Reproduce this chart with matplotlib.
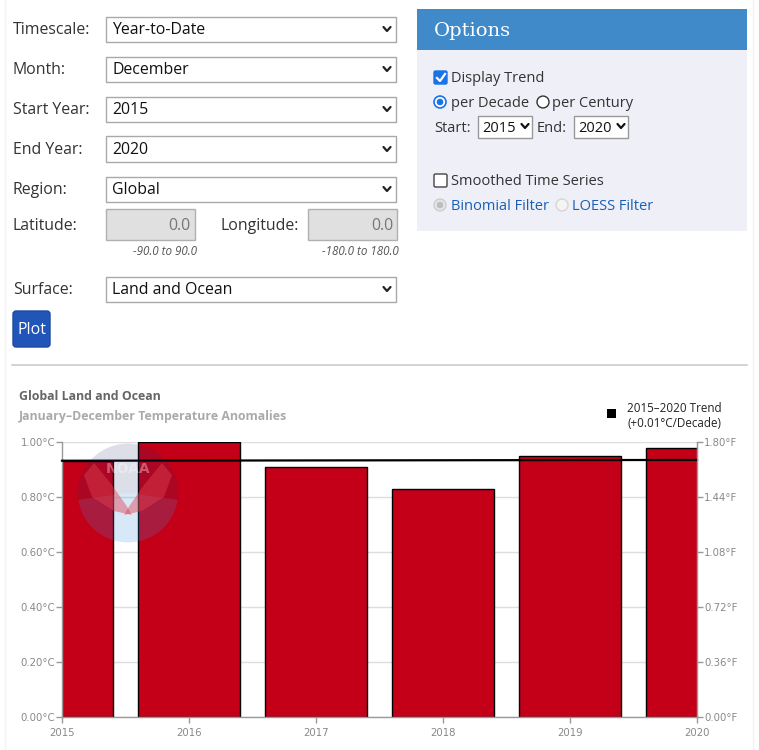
import numpy as np
import matplotlib
matplotlib.use("Agg")
import matplotlib.pyplot as plt
from matplotlib.patches import Rectangle, FancyBboxPatch, Circle, Wedge, Polygon
from matplotlib.lines import Line2D

# ---------------- data ----------------
years = [2015, 2016, 2017, 2018, 2019, 2020]
anomalies_c = [0.93, 1.00, 0.91, 0.83, 0.95, 0.98]
c_ticks = [0.0, 0.2, 0.4, 0.6, 0.8, 1.0]
f_ticks = [0.0, 0.36, 0.72, 1.08, 1.44, 1.80]
title = "Global Land and Ocean"
subtitle = "January\u2013December Temperature Anomalies"
legend_lines = ["2015\u20132020 Trend", "(+0.01\u00b0C/Decade)"]

form_labels = ["Timescale:", "Month:", "Start Year:", "End Year:", "Region:", "Surface:"]
form_values = ["Year-to-Date", "December", "2015", "2020", "Global", "Land and Ocean"]
form_rows_y = [29, 69, 109, 149, 189, 289]

W, H = 759, 750
fig = plt.figure(figsize=(W / 100, H / 100), dpi=100)
fig.patch.set_facecolor("white")

FONT = "Open Sans"
YOFF = 1.5


def fx(x):
    return x / W


def fy(y):
    return 1 - y / H


def rect(x0, y0, x1, y1, fc, ec="none", lw=1.0, z=1, **kw):
    r = Rectangle((fx(x0), fy(y1)), fx(x1) - fx(x0), fy(y0) - fy(y1),
                  transform=fig.transFigure, facecolor=fc, edgecolor=ec, lw=lw, zorder=z, **kw)
    fig.patches.append(r)
    return r


def text(x, y, s, size, color="#333333", ha="left", va="center", **kw):
    kw.setdefault("family", FONT)
    fig.text(fx(x), fy(y + YOFF), s, fontsize=size, color=color, ha=ha, va=va, **kw)


def chevron(x, y, color="#222222"):
    fig.lines.append(Line2D([fx(x - 3.5), fx(x), fx(x + 3.5)], [fy(y - 2), fy(y + 2), fy(y - 2)],
                            transform=fig.transFigure, color=color, lw=1.6, solid_capstyle="round"))


# page side borders
fig.lines.append(Line2D([fx(5), fx(5)], [0, 1], transform=fig.transFigure, color="#f3f3f3", lw=1))
fig.lines.append(Line2D([fx(753), fx(753)], [0, 1], transform=fig.transFigure, color="#f3f3f3", lw=1))

# ---------------- form ----------------
for lab, val, yc in zip(form_labels, form_values, form_rows_y):
    text(13, yc, lab, 11.4)
    rect(106, yc - 12.5, 396, yc + 12.5, "white", ec="#a9a9a9", lw=1)
    text(112, yc, val, 11.4, color="#111111")
    chevron(387, yc)

text(13, 225, "Latitude:", 11.4)
rect(106, 209, 195, 240, "#e0e0e0", ec="#b0b0b0", lw=1)
text(190, 225, "0.0", 11.4, color="#777777", ha="right")
text(220, 225, "Longitude:", 11.4)
rect(308, 209, 397, 240, "#e0e0e0", ec="#b0b0b0", lw=1)
text(393, 225, "0.0", 11.4, color="#777777", ha="right")
text(197, 250, "-90.0 to 90.0", 8.4, color="#555555", ha="right", style="italic")
text(399, 250, "-180.0 to 180.0", 8.4, color="#555555", ha="right", style="italic")

btn = FancyBboxPatch((fx(13), fy(347)), fx(50) - fx(13), fy(311) - fy(347),
                     boxstyle="round,pad=0,rounding_size=0.004", transform=fig.transFigure,
                     facecolor="#2255b8", edgecolor="#1d4aa0", lw=1)
fig.patches.append(btn)
text(31.5, 329, "Plot", 11.4, color="white", ha="center")

# separator
fig.lines.append(Line2D([fx(12), fx(747)], [fy(365), fy(365)], transform=fig.transFigure,
                        color="#cccccc", lw=1.2))

# ---------------- options panel ----------------
rect(417, 9, 747, 50, "#418ac9")
text(434, 29.5, "Options", 14, color="white", family="DejaVu Serif")
rect(417, 50, 747, 231, "#efeff7")

# checkbox checked
cb = FancyBboxPatch((fx(434), fy(84)), fx(447) - fx(434), fy(71) - fy(84),
                    boxstyle="round,pad=0,rounding_size=0.002", transform=fig.transFigure,
                    facecolor="#1a73e8", edgecolor="#1a73e8", lw=1)
fig.patches.append(cb)
fig.lines.append(Line2D([fx(437), fx(440), fx(445)], [fy(78), fy(81), fy(74)],
                        transform=fig.transFigure, color="white", lw=1.6))
text(451, 77, "Display Trend", 10.5)

# radios
fig.patches.append(Circle((fx(440), fy(102)), 6 / W, transform=fig.transFigure,
                          facecolor="white", edgecolor="#1a73e8", lw=1.2))
fig.patches.append(Circle((fx(440), fy(102)), 3.3 / W, transform=fig.transFigure,
                          facecolor="#1a73e8", edgecolor="none"))
text(451, 102, "per Decade", 10.5)
fig.patches.append(Circle((fx(543), fy(102)), 6 / W, transform=fig.transFigure,
                          facecolor="white", edgecolor="#333333", lw=1))
text(552, 102, "per Century", 10.5)

text(434, 127, "Start:", 10.5)
rect(478, 116, 532, 138, "white", ec="#999999", lw=1)
text(482, 127, "2015", 10.5, color="#111111")
chevron(525, 126, "#111111")
text(537, 127, "End:", 10.5)
rect(574, 116, 628, 138, "white", ec="#999999", lw=1)
text(578, 127, "2020", 10.5, color="#111111")
chevron(621, 126, "#111111")

cb2 = FancyBboxPatch((fx(434), fy(187)), fx(447) - fx(434), fy(174) - fy(187),
                     boxstyle="round,pad=0,rounding_size=0.002", transform=fig.transFigure,
                     facecolor="white", edgecolor="#444444", lw=1)
fig.patches.append(cb2)
text(451, 180, "Smoothed Time Series", 10.5)

fig.patches.append(Circle((fx(440), fy(205)), 6 / W, transform=fig.transFigure,
                          facecolor="#e6e6e6", edgecolor="#cccccc", lw=1))
fig.patches.append(Circle((fx(440), fy(205)), 3.3 / W, transform=fig.transFigure,
                          facecolor="#bdbdbd", edgecolor="none"))
text(451, 205, "Binomial Filter", 10.5, color="#1a5fb4")
fig.patches.append(Circle((fx(562), fy(205)), 6 / W, transform=fig.transFigure,
                          facecolor="#f4f4f4", edgecolor="#d6d6d6", lw=1))
text(572, 205, "LOESS Filter", 10.5, color="#1a5fb4")

# ---------------- chart ----------------
text(19, 395, title, 8.9, color="#666666", weight="bold")
text(19, 415, subtitle, 8.9, color="#aaaaaa", weight="bold")

rect(607, 409, 616, 418, "black")
text(627, 407, legend_lines[0], 8.4, color="#222222")
text(627, 422, legend_lines[1], 8.4, color="#222222")

ax_l, ax_r, ax_t, ax_b = 62, 697, 442, 717
ax = fig.add_axes([fx(ax_l), fy(ax_b), fx(ax_r) - fx(ax_l), fy(ax_t) - fy(ax_b)])
ax.set_xlim(2015, 2020)
ax.set_ylim(0, 1.0)
ax.set_facecolor("none")

ax.bar(years, anomalies_c, width=0.8, color="#c40018", edgecolor="black", lw=1.0, zorder=2)

# trend line (least squares fit of the series)
slope, intercept = np.polyfit(years, anomalies_c, 1)
yr = np.array([years[0], years[-1]])
ax.plot(yr, slope * yr + intercept, color="black", lw=1.6, zorder=4, clip_on=False)

ax.set_yticks(c_ticks)
ax.set_yticklabels([f"{v:.2f}\u00b0C" for v in c_ticks])
ax.set_xticks(years)
ax.set_xticklabels([str(y) for y in years])
ax.grid(axis="y", color="#dddddd", lw=1, zorder=0)
ax.set_axisbelow(True)
ax.spines["top"].set_visible(False)
for s in ["left", "bottom", "right"]:
    ax.spines[s].set_color("#999999")
    ax.spines[s].set_linewidth(1)
ax.tick_params(axis="both", colors="#999999", labelcolor="#888888", labelsize=7.3, length=4, width=1)
ax.tick_params(axis="x", pad=4)
ax.tick_params(axis="y", pad=1)

ax2 = ax.twinx()
ax2.set_ylim(0, 1.8)
ax2.set_yticks(f_ticks)
ax2.set_yticklabels([f"{v:.2f}\u00b0F" for v in f_ticks])
for s in ["top", "left", "bottom"]:
    ax2.spines[s].set_visible(False)
ax2.spines["right"].set_color("#999999")
ax2.tick_params(axis="y", colors="#999999", labelcolor="#888888", labelsize=7.3, length=4, width=1, pad=1)

# NOAA watermark logo (semi-transparent)
cx, cy, r = 128, 493, 50
fig.patches.append(Wedge((fx(cx), fy(cy)), r / W, -8, 188, transform=fig.transFigure,
                         facecolor="#1f2a6b", alpha=0.15, edgecolor="none", zorder=5))
fig.patches.append(Wedge((fx(cx), fy(cy)), r / W, 188, 352, transform=fig.transFigure,
                         facecolor="#3a8fdc", alpha=0.2, edgecolor="none", zorder=5))
# stylised gull wings
wing_l = [(cx - 44, cy - 18), (cx - 34, cy - 30), (cx - 16, cy - 8), (cx - 2, cy + 12),
          (cx + 4, cy + 22), (cx - 14, cy + 18), (cx - 36, cy + 4)]
wing_r = [(cx + 44, cy - 18), (cx + 34, cy - 30), (cx + 16, cy - 8), (cx + 2, cy + 12),
          (cx - 4, cy + 22), (cx + 14, cy + 18), (cx + 36, cy + 4)]
for wing in (wing_l, wing_r):
    fig.patches.append(Polygon([(fx(a), fy(b)) for a, b in wing], closed=True,
                               transform=fig.transFigure, facecolor="#e0404f", alpha=0.45,
                               edgecolor="none", zorder=6))
fig.text(fx(cx), fy(cy - 24), "NOAA", fontsize=10, color="white", alpha=0.35, weight="bold",
         ha="center", va="center", family="DejaVu Sans", zorder=7)

fig.savefig("out.png", dpi=100, facecolor="white")
